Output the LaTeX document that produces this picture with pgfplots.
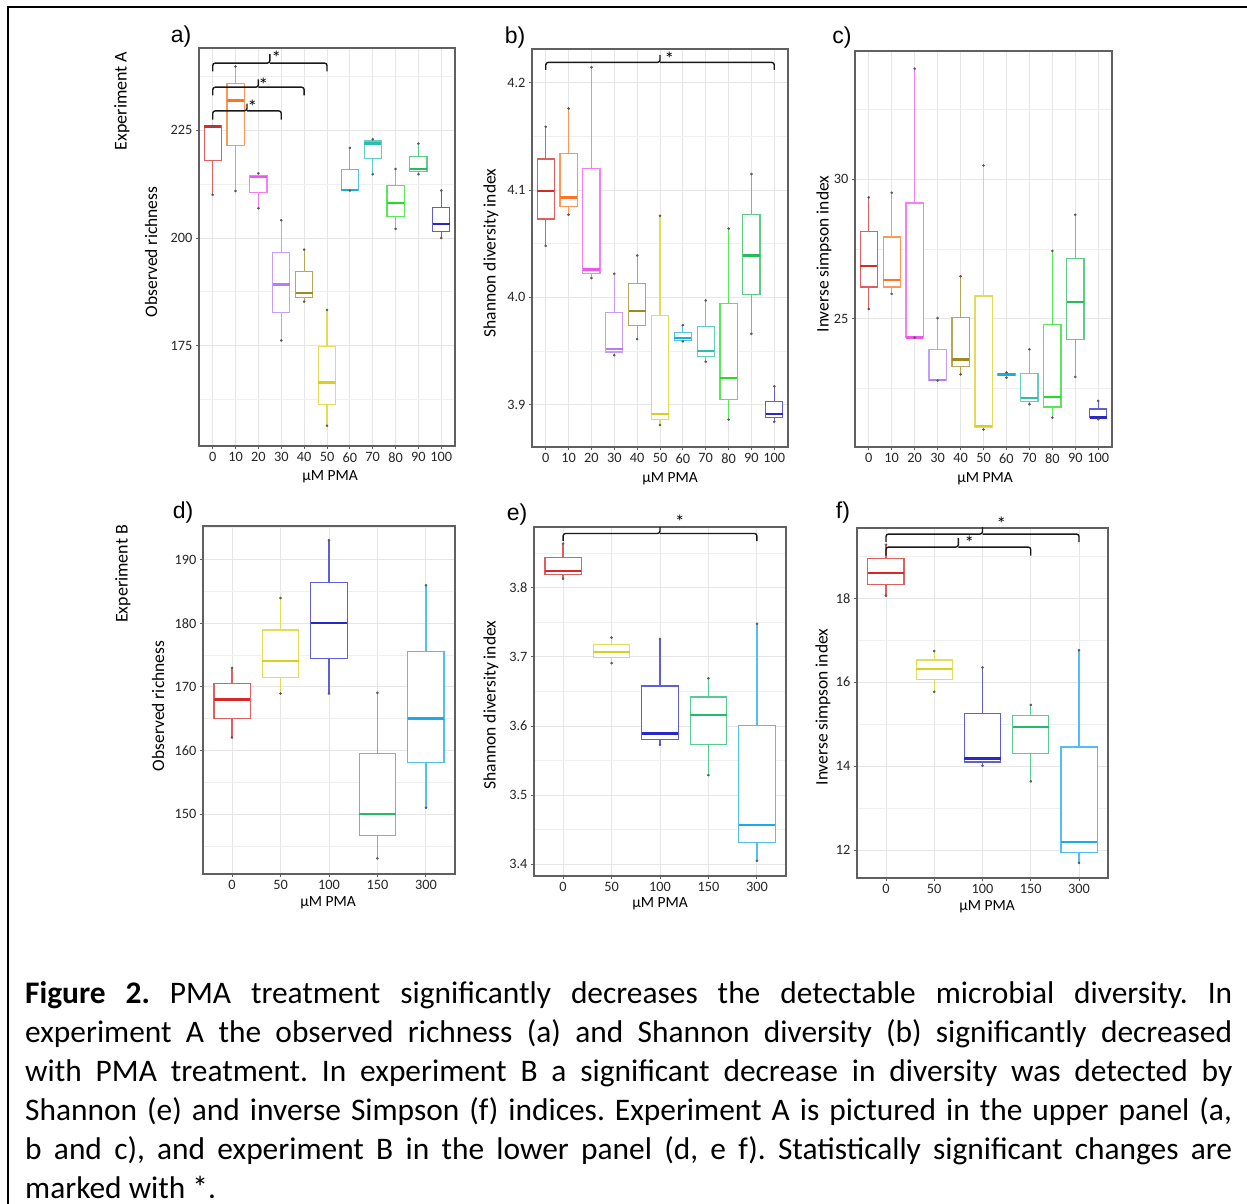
\documentclass[border=0pt]{standalone}
\usepackage{fontspec}
\setmainfont{Carlito}
\newfontfamily\arialfont{Liberation Sans}
\usepackage{pgfplots}
\pgfplotsset{compat=1.18}
\usepgfplotslibrary{statistics}
\frenchspacing

\definecolor{axgray}{HTML}{606060}
\definecolor{gridmaj}{HTML}{E6E6E6}
\definecolor{gridmin}{HTML}{EFEFEF}
\definecolor{cA0}{HTML}{D42A2A}
\definecolor{cA1}{HTML}{FF7422}
\definecolor{cA2}{HTML}{EE55EE}
\definecolor{cA3}{HTML}{B47BFF}
\definecolor{cA4}{HTML}{A08A1E}
\definecolor{cA5}{HTML}{D8D020}
\definecolor{cA6}{HTML}{1AAEDD}
\definecolor{cA7}{HTML}{2CBEAA}
\definecolor{cA8}{HTML}{22DD22}
\definecolor{cA9}{HTML}{28BB5C}
\definecolor{cA10}{HTML}{2828C8}
\definecolor{cB0}{HTML}{D42A2A}
\definecolor{cB1}{HTML}{D8D020}
\definecolor{cB2}{HTML}{2828C8}
\definecolor{cB3}{HTML}{22BB6E}
\definecolor{cB4}{HTML}{1AA8F0}

\pgfplotsset{
  panel/.style={
    scale only axis, anchor=north west, clip=false,
    axis line style={draw=axgray, line width=1.3pt},
    grid=both,
    major grid style={draw=gridmaj, line width=0.9pt},
    minor grid style={draw=gridmin, line width=0.7pt},
    xtick pos=bottom, ytick pos=left,
    tick align=outside, major tick length=3pt, minor tick length=0pt,
    tick style={draw=axgray, line width=0.9pt},
    ticklabel style={font=\fontsize{14.3}{14.3}\selectfont, text=black!85},
    /pgf/number format/assume math mode=true,
    boxplot/draw direction=y,
  },
}

% color, position, lower whisker, lower quartile, median, upper quartile, upper whisker
\newcommand{\bx}[7]{%
  \addplot[draw=#1!75!white, fill=white, line width=1.2pt,
    boxplot/every median/.style={draw=#1, line width=2.4pt},
    boxplot prepared={draw position=#2, lower whisker=#3, lower quartile=#4,
      median=#5, upper quartile=#6, upper whisker=#7, box extend=0.75, whisker extend=0}]
    coordinates {};
  \addplot[only marks, mark=*, mark size=1.1pt, color=black!65, forget plot]
    coordinates {(#2,#3) (#2,#7)};
}
% x0, x1, xc, yh, yend, ytop
\newcommand{\brk}[6]{%
  \draw[black!90, line width=1.4pt, rounded corners=2.5pt] (axis cs:#1,#5) |- (axis cs:#3,#4) -- (axis cs:#3,#6);
  \draw[black!90, line width=1.4pt, rounded corners=2.5pt] (axis cs:#3,#4) -| (axis cs:#2,#5);
}
\newcommand{\sig}[2]{\node[font=\fontsize{19}{19}\selectfont, inner sep=0pt, yshift=-2pt] at (axis cs:#1,#2) {*};}

\begin{document}
\begin{tikzpicture}
\useasboundingbox (0pt,0pt) rectangle (1247pt,-1204pt);
\fill[white] (0pt,0pt) rectangle (1247pt,-1204pt);
\draw[black, line width=2.6pt] (8pt,-1215pt) -- (8pt,-7pt) -- (1260pt,-7pt);

% ---------------- a) ----------------
\begin{axis}[panel, at={(199pt,-48pt)}, width=256pt, height=398pt,
  xmin=-0.6, xmax=10.6, ymin=151.7, ymax=244.1,
  xtick={0,...,10}, xticklabels={0,10,20,30,40,50,60,70,80,90,100},
  ytick={175,200,225}, minor ytick={162.5,187.5,212.5,237.5}]
\bx{cA0}{0}{210}{217.9}{225.9}{226}{226}
\bx{cA1}{1}{210.9}{221.4}{231.9}{235.8}{239.8}
\bx{cA2}{2}{206.9}{210.5}{214.1}{214.5}{215}
\bx{cA3}{3}{176.2}{182.7}{189.2}{196.7}{204.1}
\bx{cA4}{4}{185.2}{186.2}{187.2}{192.2}{197.3}
\bx{cA5}{5}{156.4}{161.4}{166.4}{174.8}{183.3}
\bx{cA6}{6}{211}{211}{211.1}{215.9}{220.9}
\bx{cA7}{7}{214.8}{218.5}{221.9}{222.5}{222.9}
\bx{cA8}{8}{202.1}{205}{208.1}{212.1}{216}
\bx{cA9}{9}{214.8}{215.4}{216}{219}{221.9}
\bx{cA10}{10}{200}{201.5}{203.2}{207.1}{211}
\brk{0}{3}{1.5}{229.5}{227.5}{231.2}
\brk{0}{4}{2}{235}{233.1}{236.8}
\brk{0}{5}{2.5}{240.6}{238.7}{242.7}
\sig{1.73}{231.0}
\sig{2.21}{236.1}
\sig{2.78}{242.2}
\end{axis}

% ---------------- b) ----------------
\begin{axis}[panel, at={(532pt,-49pt)}, width=256pt, height=398pt,
  xmin=-0.6, xmax=10.6, ymin=3.8605, ymax=4.2315,
  xtick={0,...,10}, xticklabels={0,10,20,30,40,50,60,70,80,90,100},
  ytick={3.9,4.0,4.1,4.2}, yticklabels={3.9,4.0,4.1,4.2}, minor ytick={3.95,4.05,4.15}]
\bx{cA0}{0}{4.048}{4.073}{4.099}{4.129}{4.159}
\bx{cA1}{1}{4.077}{4.085}{4.093}{4.134}{4.176}
\bx{cA2}{2}{4.018}{4.022}{4.026}{4.120}{4.2145}
\bx{cA3}{3}{3.946}{3.949}{3.952}{3.986}{4.022}
\bx{cA4}{4}{3.961}{3.974}{3.987}{4.013}{4.039}
\bx{cA5}{5}{3.881}{3.886}{3.891}{3.983}{4.076}
\bx{cA6}{6}{3.959}{3.960}{3.962}{3.967}{3.974}
\bx{cA7}{7}{3.940}{3.945}{3.950}{3.973}{3.997}
\bx{cA8}{8}{3.886}{3.905}{3.925}{3.994}{4.064}
\bx{cA9}{9}{3.966}{4.003}{4.039}{4.077}{4.115}
\bx{cA10}{10}{3.884}{3.888}{3.891}{3.903}{3.917}
\brk{0}{10}{5}{4.219}{4.212}{4.226}
\sig{5.41}{4.2247}
\end{axis}

% ---------------- c) ----------------
\begin{axis}[panel, at={(855pt,-51pt)}, width=257pt, height=396pt,
  xmin=-0.6, xmax=10.6, ymin=20.395, ymax=34.605,
  xtick={0,...,10}, xticklabels={0,10,20,30,40,50,60,70,80,90,100},
  ytick={25,30}, minor ytick={22.5,27.5,32.5}]
\bx{cA0}{0}{25.35}{26.14}{26.90}{28.13}{29.35}
\bx{cA1}{1}{25.89}{26.14}{26.38}{27.93}{29.52}
\bx{cA2}{2}{24.32}{24.32}{24.33}{29.15}{33.97}
\bx{cA3}{3}{22.78}{22.79}{22.80}{23.90}{25.02}
\bx{cA4}{4}{23.00}{23.27}{23.54}{25.04}{26.52}
\bx{cA5}{5}{21.02}{21.11}{21.14}{25.81}{30.50}
\bx{cA6}{6}{22.88}{22.98}{23.00}{23.03}{23.07}
\bx{cA7}{7}{21.93}{22.03}{22.15}{23.03}{23.90}
\bx{cA8}{8}{21.45}{21.83}{22.19}{24.80}{27.43}
\bx{cA9}{9}{22.91}{24.26}{25.59}{27.17}{28.73}
\bx{cA10}{10}{21.39}{21.44}{21.45}{21.76}{22.05}
\end{axis}

% ---------------- d) ----------------
\begin{axis}[panel, at={(203pt,-526pt)}, width=252pt, height=348pt,
  xmin=-0.6, xmax=4.6, ymin=140.58, ymax=195.29,
  xtick={0,...,4}, xticklabels={0,50,100,150,300},
  ytick={150,160,170,180,190}, minor ytick={145,155,165,175,185,195}]
\bx{cB0}{0}{162.04}{165.08}{168.0}{170.47}{172.98}
\bx{cB1}{1}{168.95}{171.52}{174.03}{178.95}{183.98}
\bx{cB2}{2}{168.95}{174.50}{180.0}{186.44}{193.04}
\bx{cB3}{3}{143.04}{146.60}{150.0}{159.53}{169.06}
\bx{cB4}{4}{151.0}{158.06}{165.03}{175.50}{185.97}
\end{axis}

% ---------------- e) ----------------
\begin{axis}[panel, at={(534pt,-527pt)}, width=252pt, height=349pt,
  xmin=-0.6, xmax=4.6, ymin=3.383, ymax=3.888,
  xtick={0,...,4}, xticklabels={0,50,100,150,300},
  ytick={3.4,3.5,3.6,3.7,3.8}, yticklabels={3.4,3.5,3.6,3.7,3.8},
  minor ytick={3.45,3.55,3.65,3.75,3.85}]
\bx{cB0}{0}{3.813}{3.819}{3.824}{3.844}{3.864}
\bx{cB1}{1}{3.691}{3.699}{3.7075}{3.718}{3.728}
\bx{cB2}{2}{3.573}{3.581}{3.589}{3.658}{3.726}
\bx{cB3}{3}{3.529}{3.573}{3.616}{3.642}{3.669}
\bx{cB4}{4}{3.405}{3.431}{3.457}{3.601}{3.748}
\brk{0}{4}{2}{3.8786}{3.8675}{3.888}
\sig{2.41}{3.898}
\end{axis}

% ---------------- f) ----------------
\begin{axis}[panel, at={(857pt,-528pt)}, width=251pt, height=350pt,
  xmin=-0.6, xmax=4.6, ymin=11.34, ymax=19.67,
  xtick={0,...,4}, xticklabels={0,50,100,150,300},
  ytick={12,14,16,18}, minor ytick={13,15,17,19}]
\bx{cB0}{0}{18.06}{18.33}{18.60}{18.94}{19.27}
\bx{cB1}{1}{15.77}{16.06}{16.32}{16.53}{16.74}
\bx{cB2}{2}{14.01}{14.10}{14.18}{15.26}{16.35}
\bx{cB3}{3}{13.64}{14.30}{14.94}{15.20}{15.46}
\bx{cB4}{4}{11.70}{11.94}{12.20}{14.46}{16.76}
\brk{0}{4}{2}{19.526}{19.335}{19.69}
\brk{0}{3}{1.5}{19.216}{19.01}{19.43}
\sig{2.39}{19.83}
\sig{1.73}{19.37}
\end{axis}

% ---------------- texts ----------------
\begin{scope}[every node/.style={inner sep=0pt}]
\node[font=\arialfont\fontsize{23}{23}\selectfont] at (181pt,-37pt) {a)};
\node[font=\arialfont\fontsize{23}{23}\selectfont] at (515pt,-38pt) {b)};
\node[font=\arialfont\fontsize{23}{23}\selectfont] at (842pt,-38pt) {c)};
\node[font=\arialfont\fontsize{23}{23}\selectfont] at (183pt,-513pt) {d)};
\node[font=\arialfont\fontsize{23}{23}\selectfont] at (517pt,-515pt) {e)};
\node[font=\arialfont\fontsize{23}{23}\selectfont] at (843pt,-513pt) {f)};

\node[rotate=90, font=\fontsize{18}{18}\selectfont] at (122pt,-101pt) {Experiment A};
\node[rotate=90, font=\fontsize{18}{18}\selectfont] at (123pt,-574pt) {Experiment B};

\node[rotate=90, font=\fontsize{17.5}{17.5}\selectfont] at (151pt,-252pt) {Observed richness};
\node[rotate=90, font=\fontsize{17.5}{17.5}\selectfont] at (491pt,-253pt) {Shannon diversity index};
\node[rotate=90, font=\fontsize{17.5}{17.5}\selectfont] at (824pt,-254pt) {Inverse simpson index};
\node[rotate=90, font=\fontsize{17.5}{17.5}\selectfont] at (158pt,-706pt) {Observed richness};
\node[rotate=90, font=\fontsize{17.5}{17.5}\selectfont] at (491pt,-705pt) {Shannon diversity index};
\node[rotate=90, font=\fontsize{17.5}{17.5}\selectfont] at (823pt,-707pt) {Inverse simpson index};

\node[font=\fontsize{15.5}{15.5}\selectfont] at (330pt,-477pt) {µM PMA};
\node[font=\fontsize{15.5}{15.5}\selectfont] at (670pt,-479pt) {µM PMA};
\node[font=\fontsize{15.5}{15.5}\selectfont] at (985pt,-479pt) {µM PMA};
\node[font=\fontsize{15.5}{15.5}\selectfont] at (328pt,-903pt) {µM PMA};
\node[font=\fontsize{15.5}{15.5}\selectfont] at (660pt,-904pt) {µM PMA};
\node[font=\fontsize{15.5}{15.5}\selectfont] at (987pt,-907pt) {µM PMA};

\node[anchor=base west] at (25pt,-1003pt) {\parbox[t]{1207pt}{\fontsize{31.4}{39}\selectfont
\textbf{Figure 2.} PMA treatment significantly decreases the detectable microbial diversity. In\linebreak
experiment A the observed richness (a) and Shannon diversity (b) significantly decreased\linebreak
with PMA treatment. In experiment B a significant decrease in diversity was detected by\linebreak
Shannon (e) and inverse Simpson (f) indices. Experiment A is pictured in the upper panel (a,\linebreak
b and c), and experiment B in the lower panel (d, e f). Statistically significant changes are\linebreak
marked with *.}};
\end{scope}
\end{tikzpicture}
\end{document}
